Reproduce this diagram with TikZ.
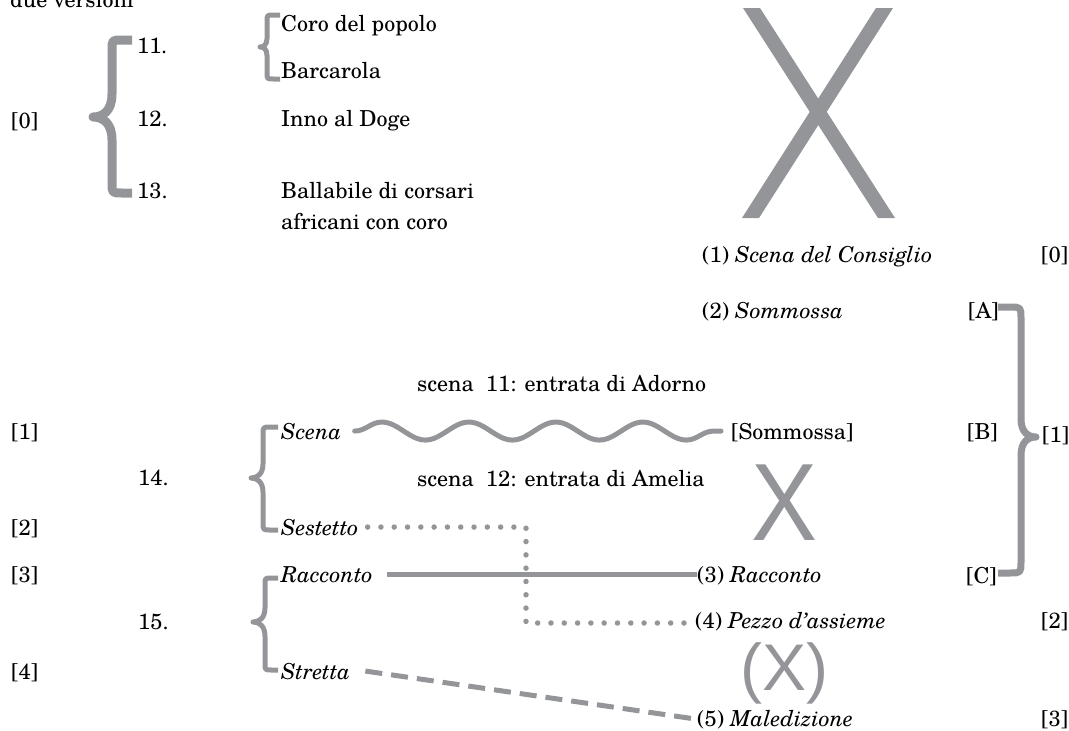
\documentclass[tikz,border=0pt]{standalone}
\usepackage{graphicx}
\usepackage{fontspec}
\setmainfont{texgyreschola-regular.otf}[ItalicFont=texgyreschola-italic.otf]
\newfontfamily\xsans{Liberation Sans}
\usetikzlibrary{decorations.pathmorphing}
\definecolor{grl}{RGB}{147,149,152}
\newcommand\mybrace[7]{%
  \draw[bracestyle, line width=#7pt] (#1,#4) -- ({(#1+#2)/2},#4)
    .. controls (#2,#4) .. (#2,{#4+abs(#1-#2)/2})
    -- (#2,{#5-abs(#2-#3)*1.2})
    .. controls (#2,{#5-abs(#2-#3)*0.3}) and ({(#2+#3)/2},#5) .. (#3,#5)
    .. controls ({(#2+#3)/2},#5) and (#2,{#5+abs(#2-#3)*0.3}) .. (#2,{#5+abs(#2-#3)*1.2})
    -- (#2,{#6-abs(#1-#2)/2})
    .. controls (#2,#6) .. ({(#1+#2)/2},#6) -- (#1,#6);}
\begin{document}
\begin{tikzpicture}[x=1pt,y=-1pt,
  every node/.style={inner sep=0pt, font=\fontsize{22}{31}\selectfont},
  lbl/.style={anchor=base west},
  grayline/.style={draw=grl, line width=5pt},
  bracestyle/.style={draw=grl, line join=round, line cap=butt},
  wave/.style={draw=grl, line width=5pt, line cap=round, decorate,
    decoration={snake, segment length=87pt, amplitude=9pt}},
  dotline/.style={draw=grl, line width=5.5pt, line cap=round, dash pattern=on 0pt off 13.3pt},
  dashline/.style={draw=grl, line width=5pt, dash pattern=on 17pt off 9pt},
  bigx/.style={text=grl, anchor=center}
]
\useasboundingbox (0,0) rectangle (1069,731);

% top left block
\node[lbl] (dv) at (10,7) {due versioni};
\node[lbl] (l0) at (11,128) {[0]};
\node[lbl] (n11) at (137,53) {11.};
\node[lbl] (n12) at (137,126) {12.};
\node[lbl] (n13) at (137,198) {13.};
\node[lbl] (coro) at (281,31) {Coro del popolo};
\node[lbl] (barc) at (281,78) {Barcarola};
\node[lbl] (inno) at (281,126) {Inno al Doge};
\node[lbl] (ball) at (281,198) {Ballabile di corsari};
\node[lbl] (afr) at (281,229) {africani con coro};
\mybrace{132}{112}{93}{40}{117}{193}{9}
\mybrace{280}{267}{260}{15}{47}{79}{5}

% big X
\fill[grl] (743,8) -- (760,8) -- (895,218) -- (878,218) -- cycle;
\fill[grl] (876,8) -- (893,8) -- (759,218) -- (742,218) -- cycle;

% right column
\node[lbl] (c1) at (702,262) {(1) \textit{Scena del Consiglio}};
\node[lbl] (r0) at (1041,262) {[0]};
\node[lbl] (c2) at (702,318) {(2) \textit{Sommossa}};
\node[lbl] (rA) at (968,318) {[A]};
\node[lbl] (rB) at (967,439) {[B]};
\node[lbl] (r1) at (1042,442) {[1]};
\node[lbl] (rC) at (966,583) {[C]};
\mybrace{998}{1021}{1036}{307}{437}{573}{7}

% middle rows
\node[lbl] (sc11) at (417,391) {scena\hspace{12pt}11: entrata di Adorno};
\node[lbl] (l1) at (11,439) {[1]};
\node[lbl] (scena) at (281,439) {\textit{Scena}};
\node[lbl] (somm) at (731,439) {[Sommossa]};
\node[lbl] (n14) at (138,485) {14.};
\node[lbl] (sc12) at (417,486) {scena\hspace{12pt}12: entrata di Amelia};
\node[bigx, font=\xsans\fontsize{110}{110}\selectfont] (X2) at (784.5,502.5) {\scalebox{0.9}[1]{X}};
\node[lbl] (l2) at (11,535) {[2]};
\node[lbl] (sest) at (281,535) {\textit{Sestetto}};
\node[lbl] (l3) at (11,582) {[3]};
\node[lbl] (racc) at (281,582) {\textit{Racconto}};
\node[lbl] (c3) at (697,582) {(3) \textit{Racconto}};
\node[lbl] (n15) at (138,629) {15.};
\node[lbl] (c4) at (695,628) {(4) \textit{Pezzo d’assieme}};
\node[lbl] (r2) at (1041,628) {[2]};
\node[text=grl, font=\xsans\fontsize{66}{66}\selectfont, anchor=base] (X3) at (784.5,690) {(X)};
\node[lbl] (l4) at (11,679) {[4]};
\node[lbl] (stre) at (281,679) {\textit{Stretta}};
\node[lbl] (c5) at (697,726) {(5) \textit{Maledizione}};
\node[lbl] (r3) at (1041,726) {[3]};
\mybrace{278}{263}{251}{427}{478}{530}{5}
\mybrace{278}{265}{253}{578}{622}{670}{5}

% connectors
\draw[wave] ([xshift=13pt]scena.east) -- ([xshift=-10pt]scena.east -| somm.west);
\draw[grayline] ([xshift=14pt]racc.east) -- (racc.east -| c3.west);
\coordinate (dc) at (526,623);
\draw[dotline] ([xshift=9pt]sest.east) -| (dc) -- (dc -| c4.west);
\draw[dashline] ([xshift=15pt]stre.east) -- (c5.west);
\end{tikzpicture}
\end{document}
